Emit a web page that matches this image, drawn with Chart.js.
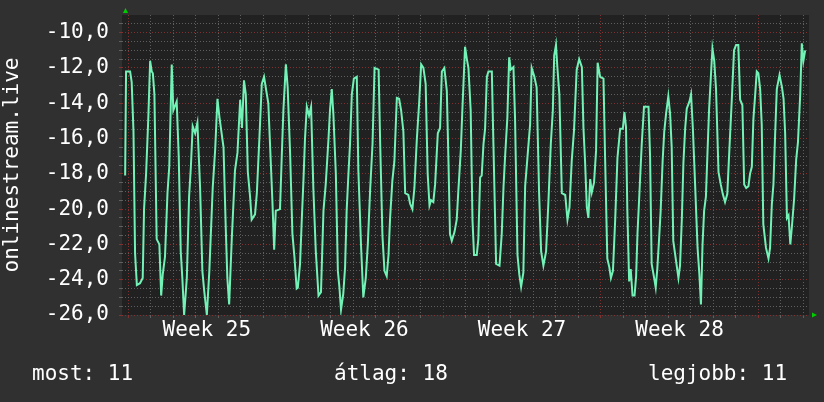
<!DOCTYPE html>
<html>
<head>
<meta charset="utf-8">
<script src="https://cdn.jsdelivr.net/npm/chart.js@4/dist/chart.umd.min.js"></script>
<style>
  body { margin: 0; background: #303030; }
  #wrap { position: relative; width: 824px; height: 402px; }
  .leg { position: absolute; top: 361px; font: 21px/25px "DejaVu Sans Mono", monospace; color: #ffffff; white-space: pre; }
</style>
</head>
<body>
<div id="wrap">
  <canvas id="myChart" width="824" height="402"></canvas>
  <div class="leg" style="left:32px">most: 11</div>
  <div class="leg" style="left:334px">átlag: 18</div>
  <div class="leg" style="left:648px">legjobb: 11</div>
</div>
<script>
// axis title and week labels
var axisTitle = 'onlinestream.live';
var weekNumbers = [25, 26, 27, 28];

// days since start of week 25
var dayPos = [
  -0.13, -0.09, 0.09, 0.16, 0.24, 0.31, 0.39, 0.53, 0.65, 0.71, 0.80, 0.90, 0.98, 1.05, 1.10, 1.17, 1.27, 1.39, 1.47, 1.54,
  1.64, 1.75, 1.83, 1.94, 2.01, 2.16, 2.25, 2.34, 2.41, 2.49, 2.61, 2.71, 2.79, 2.87, 2.98, 3.08, 3.20, 3.30, 3.38, 3.50,
  3.61, 3.76, 3.87, 3.97, 4.06, 4.24, 4.34, 4.41, 4.49, 4.61, 4.75, 4.86, 4.98, 5.06, 5.15, 5.23, 5.32, 5.42, 5.49, 5.64,
  5.72, 5.84, 5.94, 6.04, 6.23, 6.41, 6.49, 6.56, 6.75, 6.83, 6.90, 7.01, 7.09, 7.20, 7.30, 7.39, 7.49, 7.54, 7.64, 7.72,
  7.79, 7.86, 7.94, 8.04, 8.13, 8.23, 8.34, 8.46, 8.57, 8.68, 8.78, 8.90, 8.97, 9.05, 9.12, 9.23, 9.32, 9.39, 9.46, 9.56,
  9.64, 9.71, 9.79, 9.86, 9.94, 10.03, 10.16, 10.23, 10.35, 10.45, 10.56, 10.65, 10.75, 10.86, 10.95, 11.13, 11.20, 11.30, 11.39, 11.49,
  11.57, 11.64, 11.74, 11.83, 11.94, 12.04, 12.13, 12.23, 12.31, 12.45, 12.53, 12.63, 12.72, 12.83, 12.93, 13.02, 13.12, 13.22, 13.31, 13.39,
  13.46, 13.56, 13.64, 13.76, 13.86, 13.94, 14.05, 14.16, 14.23, 14.30, 14.38, 14.50, 14.60, 14.67, 14.78, 14.85, 14.97, 15.05, 15.12, 15.22,
  15.30, 15.37, 15.49, 15.56, 15.64, 15.71, 15.79, 15.86, 15.94, 16.01, 16.16, 16.23, 16.35, 16.50, 16.60, 16.68, 16.75, 16.85, 16.93, 17.00,
  17.12, 17.19, 17.30, 17.38, 17.46, 17.56, 17.64, 17.74, 17.86, 17.93, 18.05, 18.15, 18.26, 18.35, 18.45, 18.57, 18.67, 18.78, 18.87, 18.93,
  19.01, 19.07, 19.16, 19.27, 19.42, 19.52, 19.61, 19.71, 19.81, 19.93, 20.04, 20.16, 20.23, 20.30, 20.38, 20.45, 20.53, 20.60, 20.70, 20.79,
  20.86, 20.97, 21.12, 21.19, 21.29, 21.38, 21.45, 21.54, 21.64, 21.74, 21.86, 21.98, 22.05, 22.12, 22.18, 22.26, 22.33, 22.41, 22.50, 22.57,
  22.63, 22.72, 22.82, 22.92, 23.12, 23.19, 23.26, 23.37, 23.44, 23.51, 23.59, 23.66, 23.75, 23.82, 23.90, 24.00, 24.08, 24.15, 24.22, 24.34,
  24.45, 24.52, 24.60, 24.67, 24.75, 24.82, 24.94, 25.01, 25.09, 25.19, 25.30, 25.38, 25.45, 25.52, 25.59, 25.67, 25.74, 25.81, 25.89, 25.96,
  26.04, 26.12, 26.23, 26.33, 26.42, 26.52, 26.62, 26.71, 26.82, 26.92, 27.01, 27.11, 27.19, 27.29, 27.37, 27.46, 27.56, 27.63, 27.71, 27.78,
  27.86, 27.93, 28.00, 28.08, 28.15, 28.22, 28.34, 28.45, 28.52, 28.60, 28.67, 28.75, 28.82, 28.94, 29.05, 29.12, 29.19, 29.27, 29.34, 29.42,
  29.49, 29.59, 29.68, 29.76, 29.86, 29.93, 30.00, 30.08
];

// measured values
var values = [
  -18.1, -12.2, -12.2, -12.8, -15.6, -22.5, -24.3, -24.2, -23.9, -20.0, -18.0, -14.8, -11.6, -12.2, -12.3, -13.5, -21.7, -22.0, -24.9, -23.7,
  -22.7, -19.1, -17.6, -11.8, -14.4, -13.9, -17.0, -22.4, -23.9, -26.0, -23.9, -19.3, -17.6, -15.3, -15.7, -15.1, -18.8, -23.5, -24.6, -26.0,
  -23.5, -18.8, -16.6, -13.75, -14.8, -16.5, -21.1, -23.9, -25.4, -21.6, -17.8, -16.8, -13.8, -15.4, -12.7, -13.5, -17.9, -19.3, -20.6, -20.3,
  -19.1, -15.8, -12.9, -12.5, -14.0, -19.5, -22.3, -20.1, -20.0, -16.9, -14.4, -11.8, -13.1, -16.9, -21.4, -22.7, -24.5, -24.45, -23.1, -20.5,
  -18.4, -16.0, -14.2, -14.7, -14.2, -18.8, -22.4, -24.9, -24.7, -20.1, -18.6, -16.1, -14.4, -13.2, -14.6, -18.0, -23.5, -24.45, -25.7, -24.8,
  -23.3, -20.1, -18.0, -16.3, -13.5, -12.6, -12.5, -17.8, -22.1, -25.0, -23.9, -22.0, -19.0, -16.3, -12.0, -12.1, -16.3, -21.5, -23.5, -23.8,
  -22.6, -20.5, -18.4, -17.3, -13.7, -13.75, -14.4, -15.6, -19.1, -19.2, -19.7, -20.0, -18.8, -16.0, -14.0, -11.8, -12.0, -12.9, -18.0, -19.8,
  -19.5, -19.6, -18.6, -15.7, -15.4, -12.2, -12.0, -13.3, -17.1, -21.4, -21.8, -21.3, -20.6, -19.0, -16.7, -14.4, -10.8, -11.5, -12.0, -14.4,
  -20.6, -22.6, -22.6, -21.7, -18.2, -18.1, -16.3, -15.45, -12.5, -12.2, -12.2, -16.3, -23.1, -23.2, -21.4, -18.7, -17.0, -14.8, -11.4, -12.1,
  -11.95, -14.8, -22.6, -23.7, -24.4, -23.6, -18.7, -17.1, -15.2, -12.0, -12.5, -13.1, -19.1, -22.4, -23.2, -22.4, -19.7, -16.3, -14.4, -11.3,
  -10.7, -11.95, -13.5, -19.1, -19.2, -20.6, -19.9, -17.25, -15.55, -12.1, -11.5, -11.95, -15.4, -17.25, -19.9, -20.5, -18.3, -19.05, -18.5, -16.7,
  -11.7, -12.5, -12.6, -17.0, -22.8, -23.3, -23.9, -23.5, -20.6, -17.1, -15.45, -15.45, -14.5, -15.35, -20.1, -24.1, -23.4, -24.9, -24.9, -23.8,
  -21.4, -19.0, -16.3, -14.2, -14.2, -17.0, -23.1, -23.9, -24.45, -23.4, -21.7, -20.1, -17.2, -15.6, -14.6, -13.6, -14.6, -16.5, -21.8, -22.9,
  -23.9, -23.2, -20.6, -17.4, -15.4, -14.3, -13.9, -13.5, -15.4, -18.6, -22.2, -23.7, -25.4, -22.0, -20.1, -19.3, -16.8, -14.4, -12.5, -10.9,
  -11.6, -13.2, -17.9, -18.6, -19.15, -19.6, -19.15, -16.7, -13.8, -11.0, -10.7, -10.7, -13.8, -14.1, -18.6, -18.8, -18.7, -18.0, -17.6, -14.9,
  -13.5, -12.2, -12.3, -13.2, -15.2, -20.85, -22.2, -22.8, -22.2, -19.7, -18.6, -15.6, -13.2, -12.4, -13.1, -13.75, -15.7, -20.5, -20.35, -22.0,
  -21.0, -19.4, -17.2, -16.2, -13.5, -10.6, -11.6, -11.0
];

// build the point list for the line
var points = [];
for (var i = 0; i < dayPos.length; i++) {
   points.push({x: dayPos[i], y: values[i]});
}

var majorGrid = 'rgba(140, 50, 50, 0.9)';
var minorGrid = 'rgba(105, 105, 105, 0.85)';
var monoFont = {family: '"DejaVu Sans Mono", monospace', size: 21};

// background of the page and the plot area
var bgPlugin = {
   id: 'bg',
   beforeDraw: function(chart){
      var c = chart.ctx, a = chart.chartArea;
      c.save();
      c.fillStyle = '#303030';
      c.fillRect(0, 0, chart.width, chart.height);
      c.fillStyle = '#212121';
      c.fillRect(a.left, a.top, a.right - a.left, a.bottom - a.top);
      c.restore();
   },
   afterDraw: function(chart){
      // small green arrows at the end of the axes
      var c = chart.ctx, a = chart.chartArea;
      c.save();
      c.fillStyle = '#00cc00';
      c.beginPath();
      c.moveTo(a.left + 1, a.top - 2);
      c.lineTo(a.left + 6, a.top - 2);
      c.lineTo(a.left + 3.5, a.top - 7);
      c.closePath();
      c.fill();
      c.beginPath();
      c.moveTo(a.right + 3, a.bottom - 2.5);
      c.lineTo(a.right + 3, a.bottom + 2.5);
      c.lineTo(a.right + 8, a.bottom);
      c.closePath();
      c.fill();
      c.restore();
   }
};

var ctx = document.getElementById('myChart').getContext('2d');
var chart = new Chart(ctx, {
   type: 'line',
   data: {
      datasets: [{
         data: points,
         borderColor: '#72f2b6',
         borderWidth: 2,
         pointRadius: 0,
         tension: 0,
         fill: false
      }]
   },
   options: {
      responsive: false,
      animation: false,
      layout: {padding: {left: 0, right: 15, top: 15, bottom: 0}},
      plugins: {legend: {display: false}, tooltip: {enabled: false}},
      scales: {
         x: {
            type: 'linear',
            min: -0.27,
            max: 30.25,
            afterFit: function(s){
               s.height = 87;
               s.paddingLeft = 0;
               s.paddingRight = 0;
            },
            afterBuildTicks: function(s){
               var t = [];
               for (var d = 0; d <= 30; d += 0.5) t.push({value: d});
               s.ticks = t;
            },
            grid: {
               color: function(c){
                  var v = c.tick.value;
                  if (v % 1 !== 0) return 'rgba(0,0,0,0)';
                  return v % 7 === 0 ? majorGrid : minorGrid;
               },
               tickLength: 3
            },
            border: {display: false, dash: [1, 2]},
            ticks: {
               autoSkip: false,
               maxRotation: 0,
               padding: 0,
               color: '#ffffff',
               font: monoFont,
               callback: function(v){
                  var w = (v - 3.5) / 7;
                  if (w % 1 === 0 && w >= 0 && w < weekNumbers.length) return 'Week ' + weekNumbers[w];
                  return '';
               }
            }
         },
         y: {
            min: -26,
            max: -9,
            afterFit: function(s){
               s.width = 122;
               s.paddingTop = 0;
               s.paddingBottom = 0;
            },
            afterBuildTicks: function(s){
               var t = [];
               for (var v = -26; v <= -9; v += 0.5) t.push({value: v});
               s.ticks = t;
            },
            grid: {
               color: function(c){
                  var v = c.tick.value;
                  if (v >= -9) return 'rgba(0,0,0,0)';
                  return v % 2 === 0 ? majorGrid : minorGrid;
               },
               tickLength: 3
            },
            border: {display: false, dash: [1, 2]},
            title: {
               display: true,
               text: axisTitle,
               color: '#ffffff',
               font: monoFont,
               padding: {top: 0, bottom: 0}
            },
            ticks: {
               autoSkip: false,
               padding: 10,
               color: '#ffffff',
               font: monoFont,
               callback: function(v){
                  if (v % 2 === 0 && v <= -10) return v.toFixed(1).replace('.', ',');
                  return '';
               }
            }
         }
      }
   },
   plugins: [bgPlugin]
});
</script>
</body>
</html>
